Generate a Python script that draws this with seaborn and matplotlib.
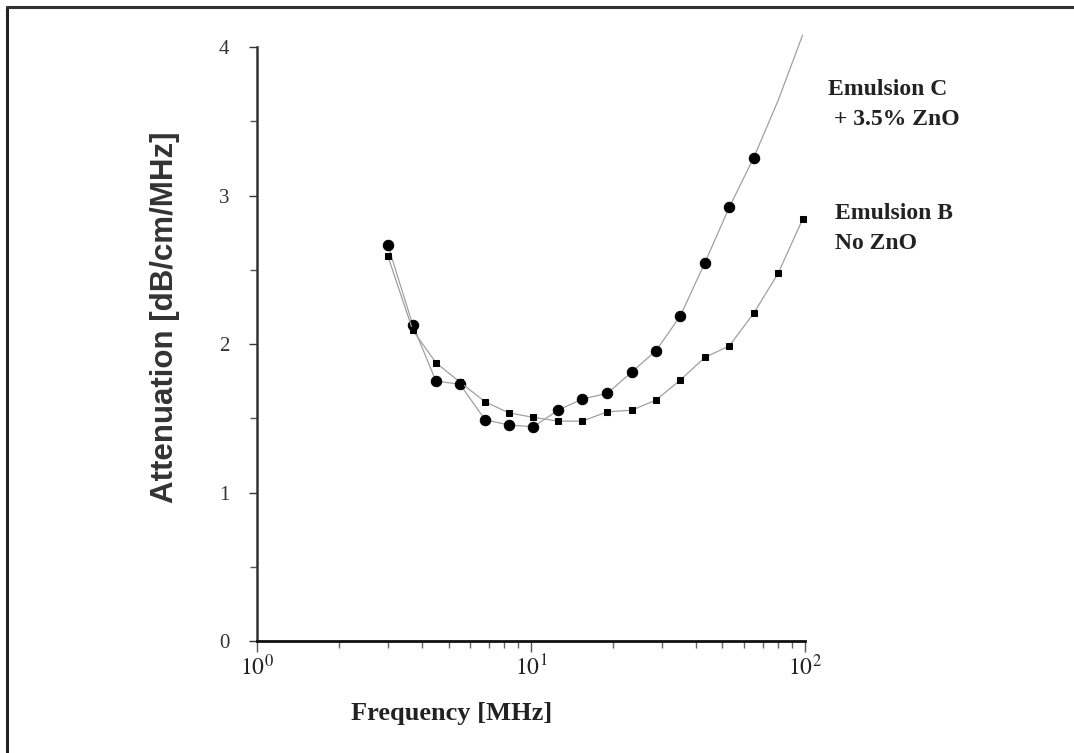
import numpy as np
import pandas as pd
import matplotlib
matplotlib.use("Agg")
import matplotlib.pyplot as plt
import seaborn as sns
from matplotlib.lines import Line2D

# values (frequency in MHz, attenuation in dB/cm/MHz)
freq = [3.0, 3.7, 4.5, 5.5, 6.8, 8.3, 10.2, 12.6, 15.4, 19.0,
        23.3, 28.6, 35.1, 43.1, 52.9, 65.0, 79.8, 98.0]
emulsion_c = [2.67, 2.13, 1.75, 1.73, 1.49, 1.455, 1.443, 1.556, 1.63, 1.668,
              1.811, 1.955, 2.19, 2.547, 2.92, 3.255]
emulsion_b = [2.595, 2.094, 1.874, 1.744, 1.611, 1.537, 1.506, 1.481, 1.481, 1.544,
              1.554, 1.623, 1.758, 1.910, 1.987, 2.207, 2.476, 2.840]
# continuation of the curve for emulsion C past its last point
trend_freq = [65.0, 79.8, 98.0]
trend_c = [3.255, 3.64, 4.08]

x_ticks = [1, 10, 100]
x_ticklabels = [r'$10^{0}$', r'$10^{1}$', r'$10^{2}$']
y_ticks = [0, 1, 2, 3, 4]

df_c = pd.DataFrame({'freq': freq[:len(emulsion_c)], 'att': emulsion_c})
df_b = pd.DataFrame({'freq': freq, 'att': emulsion_b})
df_t = pd.DataFrame({'freq': trend_freq, 'att': trend_c})

sns.set_style('ticks')
plt.rcParams['mathtext.fontset'] = 'stix'
plt.rcParams['font.family'] = ['Liberation Serif', 'DejaVu Serif']

fig = plt.figure(figsize=(10.74, 7.53), dpi=100)
ax = fig.add_axes([0.2393, 0.1487, 0.5102, 0.7888])

line_col = '#a0a0a0'
sns.lineplot(data=df_t, x='freq', y='att', ax=ax, color=line_col, linewidth=0.9,
             clip_on=False, sort=False)
sns.lineplot(data=df_c, x='freq', y='att', ax=ax, color=line_col, linewidth=0.9,
             marker='o', markersize=7.5, markerfacecolor='black', markeredgecolor='black',
             clip_on=False, sort=False)
sns.lineplot(data=df_b, x='freq', y='att', ax=ax, color=line_col, linewidth=0.9,
             marker='s', markersize=5, markerfacecolor='black', markeredgecolor='black',
             clip_on=False, sort=False)

ax.set_xscale('log')
ax.set_xlim(1, 100)
ax.set_ylim(0, 4)
ax.set_xticks(x_ticks)
ax.set_xticklabels(x_ticklabels)
ax.set_yticks(y_ticks)
ax.set_yticks(np.arange(0.5, 4, 1.0), minor=True)

for s in ['top', 'right']:
    ax.spines[s].set_visible(False)
ax.spines['left'].set_linewidth(1.8)
ax.spines['left'].set_color('#333333')
ax.spines['bottom'].set_linewidth(2.0)
ax.spines['bottom'].set_color('#111111')

ax.tick_params(axis='y', which='major', length=6, width=1, pad=14, labelsize=15,
               colors='#333333')
ax.tick_params(axis='y', which='minor', length=5, width=1, color='#555555')
ax.tick_params(axis='x', which='major', length=8, width=1, pad=2, labelsize=17,
               color='#555555', labelcolor='#222222')
ax.tick_params(axis='x', which='minor', length=5, width=1, color='#666666')

ax.set_xlabel('Frequency [MHz]', fontsize=19, fontweight='bold', color='#222222')
ax.xaxis.set_label_coords(0.356, -0.102)
ax.set_ylabel('Attenuation [dB/cm/MHz]', fontsize=22.5, fontweight='bold',
              family=['Liberation Sans', 'DejaVu Sans'], color='#333333')
ax.yaxis.set_label_coords(-0.14, 0.545)

fig.text(828 / 1074, 1 - 79 / 753, 'Emulsion C\n + 3.5% ZnO', fontsize=17,
         fontweight='bold', va='top', ha='left', linespacing=1.55, color='#222222')
fig.text(835 / 1074, 1 - 203 / 753, 'Emulsion B\nNo ZnO', fontsize=17,
         fontweight='bold', va='top', ha='left', linespacing=1.55, color='#222222')

# outer frame: left and top edges
fig.add_artist(Line2D([7 / 1074, 7 / 1074], [0, 1 - 7 / 753], transform=fig.transFigure,
                      color='#222222', linewidth=2.2))
fig.add_artist(Line2D([7 / 1074, 1], [1 - 7 / 753, 1 - 7 / 753], transform=fig.transFigure,
                      color='#333333', linewidth=2.2))

fig.savefig('out.png', dpi=100)
